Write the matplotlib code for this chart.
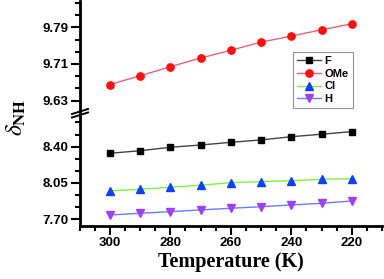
import matplotlib
matplotlib.use("Agg")
import matplotlib.pyplot as plt
from matplotlib.ticker import FixedLocator, AutoMinorLocator, MultipleLocator, FormatStrFormatter
from matplotlib.lines import Line2D

temps = [300, 290, 280, 270, 260, 250, 240, 230, 220]
ome = [9.665, 9.684, 9.704, 9.723, 9.740, 9.758, 9.771, 9.785, 9.798]
f_vals = [8.336, 8.361, 8.394, 8.416, 8.442, 8.465, 8.496, 8.520, 8.545]
cl_vals = [7.973, 7.989, 8.009, 8.028, 8.053, 8.063, 8.072, 8.086, 8.091]
h_vals = [7.741, 7.758, 7.773, 7.790, 7.806, 7.821, 7.838, 7.854, 7.876]
top_ticks = [9.63, 9.71, 9.79]
bot_ticks = [7.70, 8.05, 8.40]
x_ticks = [300, 280, 260, 240, 220]

plt.rcParams['font.family'] = ['Liberation Sans', 'DejaVu Sans']
plt.rcParams['mathtext.fontset'] = 'stix'

W, H = 384, 279
fig = plt.figure(figsize=(W / 100, H / 100), dpi=100)

left = 79.5 / W
right = 382 / W
y_bot = (H - 226) / H
y_split = (H - 111) / H
y_top = (H - 1) / H

ax_top = fig.add_axes([left, y_split, right - left, y_top - y_split])
ax_bot = fig.add_axes([left, y_bot, right - left, y_split - y_bot])

lw_sp = 2.0
for ax in (ax_top, ax_bot):
    for s in ('top', 'right'):
        ax.spines[s].set_visible(False)
    ax.spines['left'].set_linewidth(lw_sp)
    ax.spines['bottom'].set_linewidth(lw_sp)
    ax.set_xlim(310, 210)
    ax.tick_params(axis='both', which='major', direction='out', length=6.5, width=1.5,
                   labelsize=9.5, pad=1.5)
    ax.tick_params(axis='both', which='minor', direction='out', length=3.8, width=1.5)

ax_top.spines['bottom'].set_visible(False)
ax_top.tick_params(axis='x', which='both', bottom=False, labelbottom=False)

ms = 5.3
ax_top.plot(temps, ome, color='#e8607a', lw=1.0, marker='o', ms=ms,
            mfc='#ff1010', mec='#ff1010', label='OMe')
ax_bot.plot(temps, f_vals, color='#444444', lw=1.0, marker='s', ms=4.6,
            mfc='black', mec='black', label='F')
ax_bot.plot(temps, cl_vals, color='#80f040', lw=1.0, marker='^', ms=ms + 0.6,
            mfc='#1040ff', mec='#1040ff', label='Cl')
ax_bot.plot(temps, h_vals, color='#6a7cff', lw=1.0, marker='v', ms=ms + 0.6,
            mfc='#a040f0', mec='#a040f0', label='H')

ax_top.set_ylim(9.607, 9.848)
ax_bot.set_ylim(7.635, 8.744)
ax_top.yaxis.set_major_locator(FixedLocator(top_ticks))
ax_bot.yaxis.set_major_locator(FixedLocator(bot_ticks))
for ax in (ax_top, ax_bot):
    ax.yaxis.set_minor_locator(AutoMinorLocator(3))
    ax.yaxis.set_major_formatter(FormatStrFormatter('%.2f'))
ax_bot.xaxis.set_major_locator(FixedLocator(x_ticks))
ax_bot.xaxis.set_minor_locator(MultipleLocator(5))
for ax in (ax_top, ax_bot):
    for lab in ax.get_yticklabels() + ax.get_xticklabels():
        lab.set_fontweight('bold')

ax_bot.set_xlabel('Temperature (K)', family=['Liberation Serif', 'DejaVu Serif'],
                  fontweight='bold', fontsize=14.5, labelpad=2)

fig.text(16 / W, 1 - 117 / H, r'$\delta_{\mathbf{NH}}$', rotation=90,
         fontsize=17, ha='center', va='center')

# break marks on the y axis
for dy in (0, 3.5):
    x0, x1 = 72 / W, 88 / W
    ya = 1 - (114 + dy) / H
    yb = 1 - (109 + dy) / H
    fig.add_artist(Line2D([x0, x1], [ya, yb], color='black', lw=1.4,
                          transform=fig.transFigure))

handles = [ax_bot.lines[0], ax_top.lines[0], ax_bot.lines[1], ax_bot.lines[2]]
labels = ['F', 'OMe', 'Cl', 'H']
leg = fig.legend(handles, labels, loc='upper left', bbox_to_anchor=(293 / W, 1 - 52 / H),
                 borderaxespad=0, frameon=True, fancybox=False,
                 handlelength=2.2, handletextpad=0.3, borderpad=0.35, labelspacing=0.25,
                 prop={'weight': 'bold', 'size': 8})
leg.get_frame().set_edgecolor('#777777')
leg.get_frame().set_linewidth(0.8)

fig.savefig('out.png', dpi=100)
